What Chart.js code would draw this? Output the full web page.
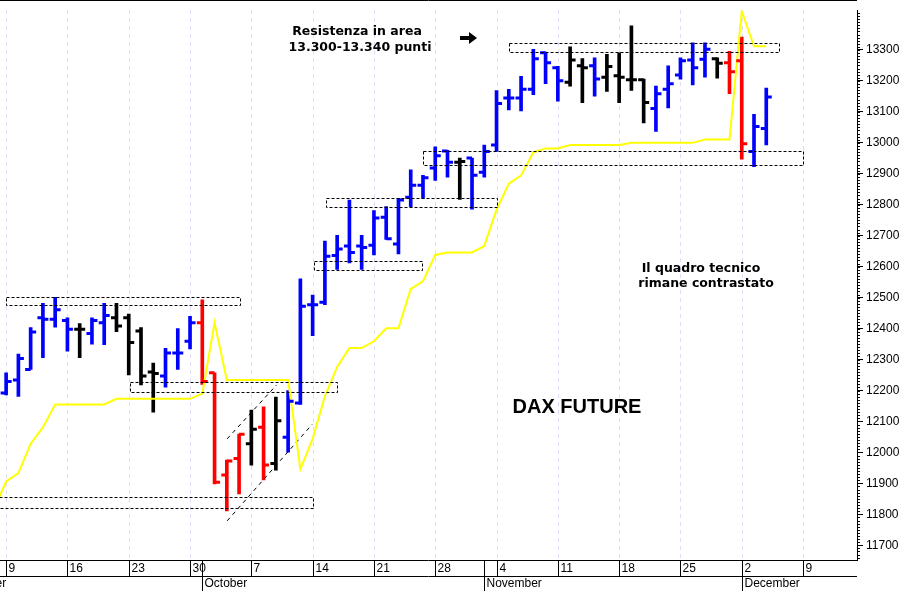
<!DOCTYPE html>
<html>
<head>
<meta charset="utf-8">
<script src="https://cdn.jsdelivr.net/npm/chart.js@4.4.1/dist/chart.umd.min.js"></script>
<style>
    html, body { margin: 0; padding: 0; background: #fff; }
    #wrap { width: 906px; height: 591px; position: relative; }
</style>
</head>
<body>
<div id="wrap"><canvas id="daxChart"></canvas></div>
<script>
// DAX future, daily bars from 9 September (index 0) to 4 December.
var dayTicks = [0, 5, 10, 15, 20, 25, 30, 35, 40, 45, 50, 55, 60, 65];
var dayLabels = ["9", "16", "23", "30", "7", "14", "21", "28", "4", "11", "18", "25", "2", "9"];
var monthStarts = [-5, 16, 39, 60];
var monthLabels = ["September", "October", "November", "December"];

var opens = [12192, 12234, 12268, 12435, 12430, 12426, 12398, 12384, 12419, 12435,
    12435, 12392, 12260, 12247, 12321, 12359, 12419, 12257, 11927, 11980,
    12028, 12081, 11964, 12049, 12160, 12477, 12485, 12636, 12667, 12667,
    12669, 12760, 12673, 12824, 12863, 12919, 12974, 12937, 12951, 12905,
    12993, 13145, 13145, 13173, 13291, 13243, 13196, 13249, 13249, 13212,
    13217, 13204, 13204, 13111, 13173, 13219, 13268, 13270, 13272, 13259,
    13265, 12972, 13046];
var highs = [12257, 12318, 12403, 12482, 12501, 12435, 12416, 12435, 12482, 12482,
    12447, 12403, 12289, 12336, 12400, 12440, 12493, 12257, 11975, 12059,
    12137, 12147, 12179, 12200, 12561, 12508, 12683, 12701, 12815, 12701,
    12781, 12794, 12821, 12913, 12895, 12987, 12976, 12951, 12951, 12993,
    13169, 13173, 13215, 13302, 13293, 13247, 13310, 13272, 13275, 13286,
    13291, 13378, 13206, 13183, 13249, 13275, 13323, 13323, 13275, 13296,
    13342, 13092, 13177];
var lows = [12186, 12181, 12268, 12306, 12405, 12327, 12306, 12350, 12348, 12390,
    12250, 12218, 12130, 12211, 12268, 12334, 12220, 11898, 11811, 11866,
    11959, 11911, 11943, 12001, 12155, 12377, 12477, 12591, 12612, 12591,
    12638, 12688, 12641, 12794, 12821, 12879, 12889, 12817, 12786, 12889,
    12972, 13106, 13103, 13156, 13191, 13135, 13183, 13130, 13151, 13166,
    13130, 13169, 13064, 13037, 13113, 13206, 13187, 13212, 13209, 13159,
    12947, 12923, 12993];
var closes = [12229, 12303, 12389, 12430, 12461, 12398, 12398, 12426, 12442, 12408,
    12355, 12247, 12255, 12321, 12321, 12419, 12229, 11904, 11972, 12059,
    12075, 11959, 12102, 12165, 12472, 12477, 12634, 12657, 12646, 12662,
    12757, 12690, 12815, 12863, 12887, 12958, 12937, 12940, 12895, 12972,
    13127, 13145, 13173, 13272, 13259, 13201, 13268, 13243, 13206, 13247,
    13212, 13204, 13130, 13159, 13191, 13265, 13243, 13302, 13257, 13230,
    12997, 13053, 13148];
// b = blu, k = nero, r = rosso
var barColors = "bbbbbbkbbkkkkbbbrrrrkrkbbbbbbbbbbbbbbkbbbbbbbbkkbkkkkbbbbbkrrb";

// Yellow line, first value is 6 September (index -1).
var yellowLine = [11815, 11906, 11933, 12028, 12081, 12155, 12155, 12155, 12155, 12155,
    12173, 12173, 12173, 12173, 12173, 12173, 12173, 12190, 12419, 12234,
    12234, 12234, 12234, 12234, 12234, 11946, 12044, 12181, 12276, 12337,
    12337, 12359, 12401, 12401, 12528, 12553, 12638, 12646, 12646, 12646,
    12667, 12784, 12868, 12895, 12969, 12982, 12982, 12993, 12993, 12993,
    12993, 12993, 13000, 13000, 13000, 13000, 13000, 13000, 13011, 13011,
    13011, 13425, 13312, 13312];

// Dashed zones: [from day, to day, low, high]
var zones = [
    [0, 19.06, 12475, 12501],
    [10.07, 27.0, 12194, 12229],
    [-0.6, 25.06, 11820, 11855],
    [25.1, 33.96, 12590, 12617],
    [26.06, 40.03, 12792, 12821],
    [34.0, 65.0, 12930, 12975],
    [41.0, 63.05, 13295, 13324]
];
var channelUpper = [{ x: 18.03, y: 12044 }, { x: 22.06, y: 12218 }];
var channelLower = [{ x: 18.03, y: 11779 }, { x: 24.97, y: 12091 }];

var colorMap = { b: "#0000ff", k: "#000000", r: "#ff0000" };
var labelFont = "12px 'Liberation Sans', Arial, sans-serif";

function barData() {
    var out = [];
    for (var i = 0; i < highs.length; i++) {
        out.push({ x: i, y: [lows[i], highs[i]] });
    }
    return out;
}

function yellowData() {
    var out = [];
    for (var i = 0; i < yellowLine.length; i++) {
        out.push({ x: i - 1, y: yellowLine[i] });
    }
    return out;
}

var backgroundPlugin = {
    id: "background",
    beforeDatasetsDraw: function (chart) {
        var ctx = chart.ctx;
        var area = chart.chartArea;
        var xs = chart.scales.x;
        ctx.save();
        ctx.strokeStyle = "#dcdcf4";
        ctx.lineWidth = 1;
        ctx.setLineDash([4, 4]);
        for (var i = 0; i < dayTicks.length; i++) {
            var px = Math.round(xs.getPixelForValue(dayTicks[i])) + 0.5;
            ctx.beginPath();
            ctx.moveTo(px, area.top);
            ctx.lineTo(px, area.bottom);
            ctx.stroke();
        }
        ctx.restore();
    }
};

var overlayPlugin = {
    id: "overlay",
    afterDatasetsDraw: function (chart) {
        var ctx = chart.ctx;
        var area = chart.chartArea;
        var xs = chart.scales.x;
        var ys = chart.scales.y;
        ctx.save();
        ctx.beginPath();
        ctx.rect(area.left, area.top, area.right - area.left, area.bottom - area.top);
        ctx.clip();

        // open / close ticks
        ctx.lineWidth = 3;
        for (var i = 0; i < opens.length; i++) {
            var px = xs.getPixelForValue(i);
            ctx.strokeStyle = colorMap[barColors[i]];
            var yo = ys.getPixelForValue(opens[i]);
            var yc = ys.getPixelForValue(closes[i]);
            ctx.beginPath();
            ctx.moveTo(px - 5.5, yo);
            ctx.lineTo(px, yo);
            ctx.moveTo(px, yc);
            ctx.lineTo(px + 5.5, yc);
            ctx.stroke();
        }

        // dashed zones
        ctx.strokeStyle = "#000";
        ctx.lineWidth = 1;
        ctx.setLineDash([3, 2]);
        zones.forEach(function (z) {
            var x1 = Math.round(xs.getPixelForValue(z[0])) + 0.5;
            var x2 = Math.round(xs.getPixelForValue(z[1])) + 0.5;
            var y1 = Math.round(ys.getPixelForValue(z[3])) + 0.5;
            var y2 = Math.round(ys.getPixelForValue(z[2])) + 0.5;
            ctx.strokeRect(x1, y1, x2 - x1, y2 - y1);
        });
        ctx.setLineDash([]);
        ctx.restore();

        // frame top
        ctx.save();
        ctx.strokeStyle = "#000";
        ctx.lineWidth = 1;
        ctx.beginPath();
        ctx.moveTo(0, 0.5);
        ctx.lineTo(area.right, 0.5);
        ctx.stroke();

        // minor ticks on the price axis
        var v;
        for (v = 11660; v <= 13420; v += 10) {
            var py = Math.round(ys.getPixelForValue(v)) + 0.5;
            ctx.beginPath();
            ctx.moveTo(area.right, py);
            ctx.lineTo(area.right + 3, py);
            ctx.stroke();
        }

        // date axis
        var b = area.bottom;
        ctx.beginPath();
        ctx.moveTo(0, b + 0.5);
        ctx.lineTo(area.right, b + 0.5);
        ctx.moveTo(0, b + 16.5);
        ctx.lineTo(area.right, b + 16.5);
        ctx.stroke();
        ctx.fillStyle = "#000";
        ctx.font = labelFont;
        ctx.textAlign = "left";
        ctx.textBaseline = "middle";
        for (var d = 0; d < dayTicks.length; d++) {
            var dx = Math.round(xs.getPixelForValue(dayTicks[d])) + 0.5;
            ctx.beginPath();
            ctx.moveTo(dx, b);
            ctx.lineTo(dx, b + 16);
            ctx.stroke();
            ctx.fillText(dayLabels[d], dx + 2, b + 9);
        }
        for (var m = 0; m < monthStarts.length; m++) {
            var mx = Math.round(xs.getPixelForValue(monthStarts[m])) + 0.5;
            ctx.beginPath();
            ctx.moveTo(mx, b);
            ctx.lineTo(mx, b + 31);
            ctx.stroke();
            ctx.fillText(monthLabels[m], mx + 2, b + 24);
        }

        // annotations
        ctx.textAlign = "center";
        ctx.font = "bold 12.5px 'DejaVu Sans', Verdana, sans-serif";
        ctx.fillText("Resistenza in area", 357, 32);
        ctx.fillText("13.300-13.340 punti", 360, 48);
        ctx.fillText("Il quadro tecnico", 701, 269);
        ctx.fillText("rimane contrastato", 706, 284);
        ctx.font = "bold 20px 'Liberation Sans', Arial, sans-serif";
        ctx.fillText("DAX FUTURE", 577, 407);

        ctx.beginPath();
        ctx.moveTo(460, 36);
        ctx.lineTo(469, 36);
        ctx.lineTo(469, 32);
        ctx.lineTo(477, 38);
        ctx.lineTo(469, 44);
        ctx.lineTo(469, 40);
        ctx.lineTo(460, 40);
        ctx.closePath();
        ctx.fill();
        ctx.restore();
    }
};

new Chart(document.getElementById("daxChart"), {
    data: {
        datasets: [
            {
                type: "line",
                data: yellowData(),
                borderColor: "#ffff00",
                borderWidth: 2,
                pointRadius: 0,
                tension: 0
            },
            {
                type: "line",
                data: channelUpper,
                borderColor: "#000",
                borderWidth: 1,
                borderDash: [4, 4],
                pointRadius: 0
            },
            {
                type: "line",
                data: channelLower,
                borderColor: "#000",
                borderWidth: 1,
                borderDash: [4, 4],
                pointRadius: 0
            },
            {
                type: "bar",
                data: barData(),
                backgroundColor: barColors.split("").map(function (c) { return colorMap[c]; }),
                barThickness: 3,
                borderSkipped: false
            }
        ]
    },
    options: {
        responsive: true,
        maintainAspectRatio: false,
        animation: false,
        layout: { padding: { left: 0, top: 0, right: 0, bottom: 31 } },
        plugins: { legend: { display: false }, tooltip: { enabled: false } },
        scales: {
            x: {
                type: "linear",
                display: false,
                offset: false,
                min: -0.5,
                max: 69.4
            },
            y: {
                position: "right",
                min: 11652.5,
                max: 13428.5,
                afterBuildTicks: function (axis) {
                    axis.ticks = axis.ticks.filter(function (t) { return t.value % 50 === 0; });
                },
                afterFit: function (axis) {
                    axis.width = 49;
                },
                ticks: {
                    stepSize: 50,
                    color: "#000",
                    padding: 3,
                    callback: function (value) { return String(value); },
                    font: { size: 12, family: "'Liberation Sans', Arial, sans-serif" }
                },
                grid: { drawOnChartArea: false, tickLength: 6, color: "#000" },
                border: { color: "#000" }
            }
        }
    },
    plugins: [backgroundPlugin, overlayPlugin]
});
</script>
</body>
</html>
